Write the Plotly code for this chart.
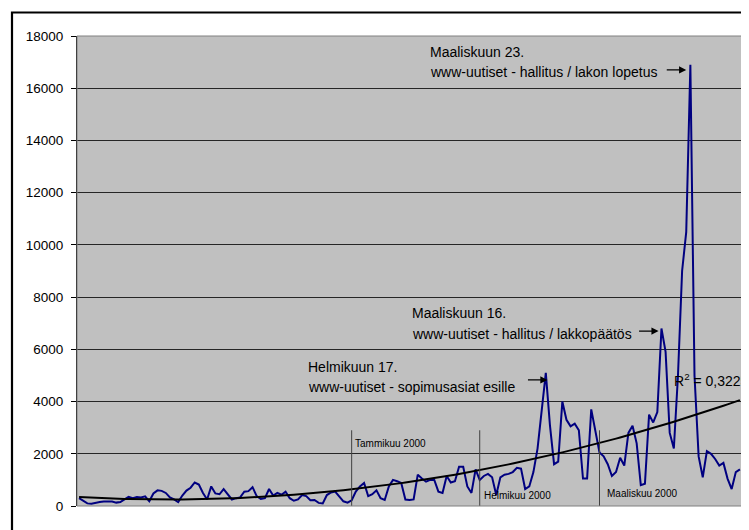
import numpy as np
import pandas as pd
import plotly.graph_objects as go

# ---- data (daily hits) ----
start_date = "1999-10-27"
hits = [
    300, 200, 100, 90, 130, 150, 170, 180, 170, 130,
    150, 250, 350, 300, 340, 330, 370, 180, 480, 600,
    580, 500, 330, 250, 150, 400, 590, 700, 900, 820,
    500, 250, 750, 480, 450, 650, 450, 250, 300, 330,
    550, 570, 720, 380, 270, 300, 650, 400, 500, 430,
    550, 300, 200, 250, 420, 380, 220, 230, 120, 100,
    420, 520, 550, 380, 180, 130, 220, 550, 750, 880,
    380, 450, 600, 300, 230, 750, 1000, 950, 880, 250,
    230, 250, 1200, 1050, 930, 1000, 1000, 550, 500, 1150,
    900, 950, 1500, 1500, 750, 500, 1400, 1000, 1150, 1230,
    1100, 420, 1100, 1200, 1230, 1300, 1460, 1430, 650, 750,
    1300, 2200, 3700, 5100, 3100, 1600, 1700, 4000, 3300, 3050,
    3150, 2900, 1050, 1050, 3700, 2800, 2050, 1900, 1600, 1150,
    1300, 1850, 1550, 2800, 3070, 2400, 800, 850, 3500, 3200,
    3600, 6800, 5900, 2800, 2200, 5000, 9000, 10500, 16900, 5000,
    1900, 1100, 2100, 2000, 1800, 1550, 1650, 1050, 650, 1300,
    1400,
]
month_starts = ["2000-01-01", "2000-02-01", "2000-03-01"]
month_labels = ["Tammikuu 2000", "Helmikuu 2000", "Maaliskuu 2000"]
r2_text = "R<sup>2</sup> = 0,3225"
events = [
    ("Maaliskuun 23.", "www-uutiset - hallitus / lakon lopetus", "2000-03-23"),
    ("Maaliskuun 16.", "www-uutiset - hallitus / lakkopäätös", "2000-03-16"),
    ("Helmikuun 17.", "www-uutiset - sopimusasiat esille", "2000-02-16"),
]

dates = pd.date_range(start_date, periods=len(hits), freq="D")
idx = np.arange(len(hits))
vals = np.array(hits, dtype=float)

# 2nd-order polynomial trend fitted on the data (Excel-style trendline)
coef = np.polyfit(idx, vals, 2)
trend = np.polyval(coef, idx)

def day_index(d):
    return int((pd.Timestamp(d) - dates[0]).days)

FONT = "Liberation Sans, Arial, sans-serif"

fig = go.Figure()
fig.add_trace(go.Scatter(x=idx, y=vals, mode="lines",
                         line=dict(color="#000080", width=2), hoverinfo="skip"))
fig.add_trace(go.Scatter(x=idx, y=trend, mode="lines",
                         line=dict(color="#000000", width=2), hoverinfo="skip"))

shapes = []
annotations = []
# month separator lines and labels
label_pos = [(0.3, 2410), (0.6, 420), (1.4, 460)]
for d, lab, (dx, ly) in zip(month_starts, month_labels, label_pos):
    xi = day_index(d)
    shapes.append(dict(type="line", xref="x", yref="y", x0=xi, x1=xi, y0=0, y1=2900,
                       line=dict(color="#404040", width=1), layer="above"))
    annotations.append(dict(x=xi + dx, y=ly, xref="x", yref="y", text=lab, showarrow=False,
                            xanchor="left", yanchor="middle",
                            font=dict(family=FONT, size=10, color="#000000")))

# event annotations (text + arrow)
text_pos = [(84.5, 17390, 16620), (80.1, 7390, 6590), (55.0, 5320, 4560)]
arrow_y = [16700, 6700, 4830]
arrow_dx = [-1.0, -0.7, 1.4]
for (t1, t2, d), (tx, y1, y2), ay, adx in zip(events, text_pos, arrow_y, arrow_dx):
    annotations.append(dict(x=tx, y=y1, xref="x", yref="y", text=t1, showarrow=False,
                            xanchor="left", yanchor="middle",
                            font=dict(family=FONT, size=14, color="#000000")))
    annotations.append(dict(x=tx, y=y2, xref="x", yref="y", text=t2, showarrow=False,
                            xanchor="left", yanchor="middle",
                            font=dict(family=FONT, size=14, color="#000000")))
    hx = day_index(d) + adx
    annotations.append(dict(x=hx, y=ay, xref="x", yref="y", text="", showarrow=True,
                            ax=-21, ay=0, axref="pixel", ayref="pixel",
                            arrowhead=2, arrowsize=1.1, arrowwidth=1.3, arrowcolor="#000000"))

annotations.append(dict(x=143.6, y=4830, xref="x", yref="y", text=r2_text, showarrow=False,
                        xanchor="left", yanchor="middle",
                        font=dict(family=FONT, size=14, color="#000000")))

# plot-area border (grey) and outer chart frame (black)
shapes.append(dict(type="rect", xref="paper", yref="paper", x0=0, x1=1, y0=0, y1=1,
                   line=dict(color="#808080", width=1), layer="above"))
shapes.append(dict(type="rect", xref="paper", yref="paper",
                   x0=(12 - 77) / 665, x1=(760 - 77) / 665,
                   y0=(506 - 545) / 470, y1=(506 - 12.5) / 470,
                   line=dict(color="#000000", width=2.2), layer="above"))

# page body has an 8px margin, so the figure is sized/margined to compensate
fig.update_layout(
    width=741, height=522,
    margin=dict(l=69, r=7, t=28, b=24),
    paper_bgcolor="#FFFFFF", plot_bgcolor="#C0C0C0",
    showlegend=False,
    font=dict(family=FONT, color="#000000"),
    shapes=shapes, annotations=annotations,
)
fig.update_xaxes(range=[-0.5, len(hits) - 0.5], showticklabels=False, showgrid=False,
                 zeroline=False, showline=False, ticks="")
fig.update_yaxes(range=[0, 18000], dtick=2000, showgrid=True, gridcolor="#262626", gridwidth=1,
                 zeroline=False, showline=True, linecolor="#000000", linewidth=1,
                 ticks="outside", ticklen=5, tickcolor="#000000", ticklabelstandoff=5,
                 tickfont=dict(family=FONT, size=13.5, color="#000000"),
                 tickformat="d")

fig.write_html("out.html")
